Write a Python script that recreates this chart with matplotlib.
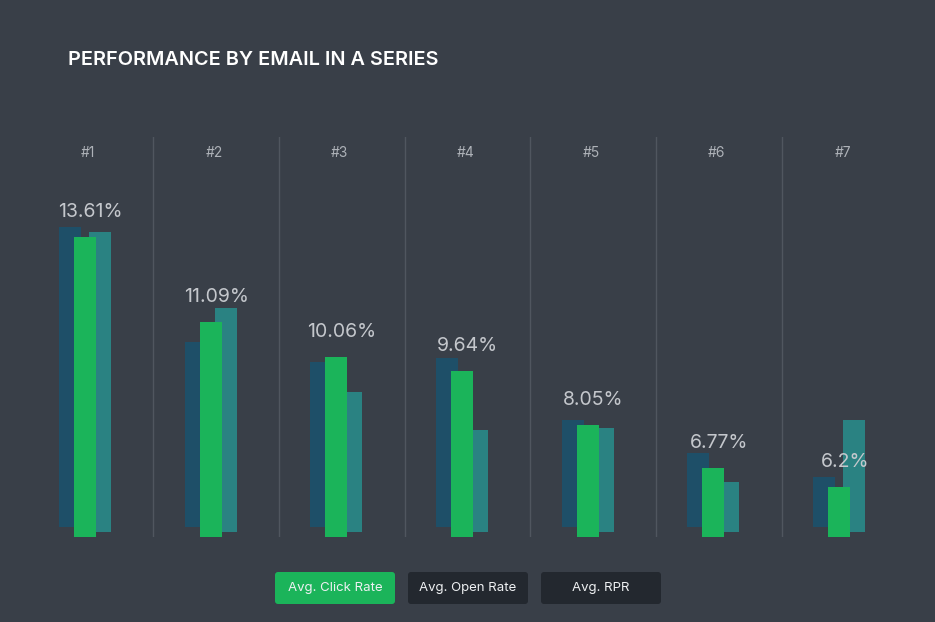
import matplotlib
matplotlib.use("Agg")
import matplotlib.pyplot as plt
from matplotlib.patches import FancyBboxPatch
from matplotlib.transforms import IdentityTransform

plt.rcParams['font.family'] = ['Inter', 'DejaVu Sans']

emails = ["#1", "#2", "#3", "#4", "#5", "#6", "#7"]
click_rate = [13.61, 11.09, 10.06, 9.64, 8.05, 6.77, 6.2]
# open rate and RPR are only shown as bar heights (0 = lowest email, 1 = highest)
open_rate_rel = [1.0, 0.54, 0.46, 0.475, 0.23, 0.095, 0.0]
rpr_rel = [1.0, 0.696, 0.36, 0.208, 0.217, 0.0, 0.248]
legend_labels = ["Avg. Click Rate", "Avg. Open Rate", "Avg. RPR"]

bg = "#393f48"
c_open = "#1e4f68"
c_click = "#1bb45a"
c_rpr = "#2a8282"

lo, hi = min(click_rate), max(click_rate)
click_rel = [(v - lo) / (hi - lo) for v in click_rate]
floor = 0.2  # smallest bar still gets some height

fig = plt.figure(figsize=(9.35, 6.22), dpi=100, facecolor=bg)
ax = fig.add_axes([27.5 / 935, 85 / 622, 880 / 935, 400 / 622])
ax.set_facecolor(bg)
ax.set_xlim(-0.5, 6.5)
ax.set_ylim(0, 1.6)
ax.axis("off")

for i in range(len(emails) - 1):
    ax.axvline(i + 0.5, color="#50565f", lw=1)

w = 0.175
xs = list(range(len(emails)))
ax.bar([x - 0.163 for x in xs], [floor + r for r in open_rate_rel], w,
       bottom=0.04, color=c_open, zorder=2)
ax.bar([x + 0.076 for x in xs], [floor + r for r in rpr_rel], w,
       bottom=0.02, color=c_rpr, zorder=3)
ax.bar([x - 0.044 for x in xs], [floor + r for r in click_rel], w,
       color=c_click, zorder=4)

for x, v, r in zip(xs, click_rate, click_rel):
    ax.text(x, floor + r + 0.1, f"{v:g}%", ha="center", va="center",
            fontsize=14, color="#c4c7cc", zorder=5)

for x, name in zip(xs, emails):
    ax.text(x - 0.016, 0.96, name, transform=ax.get_xaxis_transform(),
            ha="center", va="center", fontsize=10, color="#aeb2b8")

fig.text(68 / 935, 1 - 60 / 622, "PERFORMANCE BY EMAIL IN A SERIES",
         ha="left", va="center", fontsize=14.3, fontweight="semibold",
         color="white")

for k, lab in enumerate(legend_labels):
    x0 = 275 + k * 133
    box = FancyBboxPatch((x0, 18), 120, 32,
                         boxstyle="round,pad=0,rounding_size=3",
                         transform=IdentityTransform(),
                         facecolor=c_click if k == 0 else "#23282f",
                         edgecolor="none")
    fig.add_artist(box)
    fig.text((x0 + 60) / 935, 34 / 622, lab, ha="center", va="center",
             fontsize=9.5, color="#eef0f2")

fig.savefig("out.png", dpi=100, facecolor=bg)
